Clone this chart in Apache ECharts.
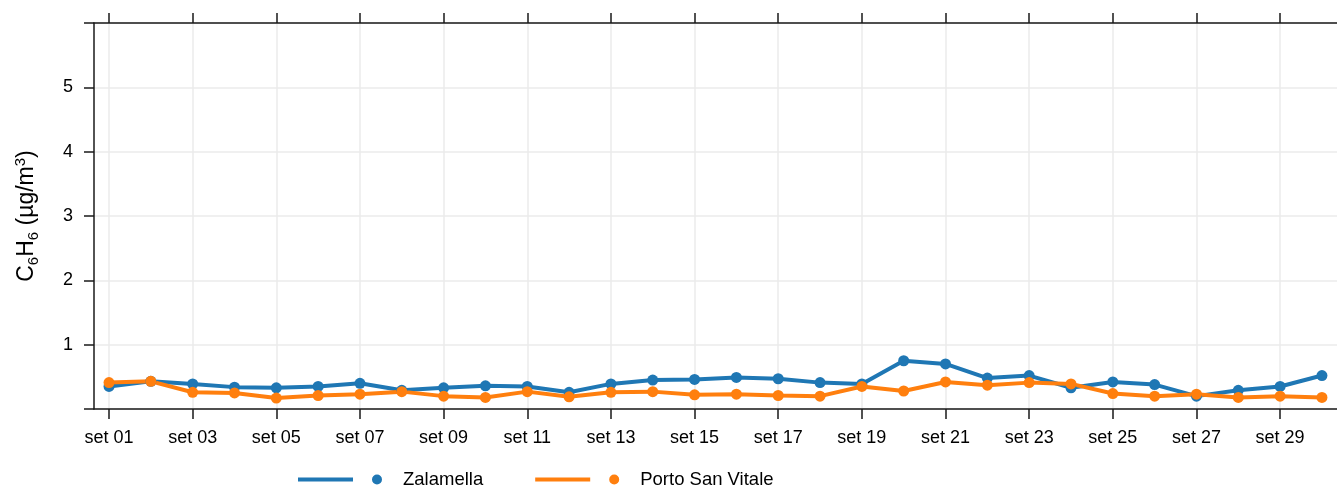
<!DOCTYPE html>
<html>
<head>
<meta charset="utf-8">
<script src="https://cdn.jsdelivr.net/npm/echarts@6/dist/echarts.min.js"></script>
<style>
  html, body { margin: 0; padding: 0; background: #fff; }
  #chart { width: 1337px; height: 490px; }
</style>
</head>
<body>
<div id="chart"></div>
<script>
// giorni di settembre
const days = [1, 2, 3, 4, 5, 6, 7, 8, 9, 10, 11, 12, 13, 14, 15, 16, 17, 18, 19, 20, 21, 22, 23, 24, 25, 26, 27, 28, 29, 30]

// benzene, µg/m3
const zalamella = [0.35, 0.43, 0.39, 0.34, 0.33, 0.35, 0.40, 0.29, 0.33, 0.36,
  0.35, 0.26, 0.39, 0.45, 0.46, 0.49, 0.47, 0.41, 0.39, 0.75,
  0.70, 0.48, 0.52, 0.33, 0.42, 0.38, 0.20, 0.29, 0.35, 0.52]
const portoSanVitale = [0.41, 0.43, 0.26, 0.25, 0.17, 0.21, 0.23, 0.27, 0.20, 0.18,
  0.27, 0.19, 0.26, 0.27, 0.22, 0.23, 0.21, 0.20, 0.35, 0.28,
  0.42, 0.37, 0.41, 0.39, 0.24, 0.20, 0.23, 0.18, 0.20, 0.18]

// etichette asse x
const tickDays = [1, 3, 5, 7, 9, 11, 13, 15, 17, 19, 21, 23, 25, 27, 29]
const tickLabels = ['set 01', 'set 03', 'set 05', 'set 07', 'set 09', 'set 11', 'set 13', 'set 15',
  'set 17', 'set 19', 'set 21', 'set 23', 'set 25', 'set 27', 'set 29']

const blue = '#1f77b4'
const orange = '#ff7f0e'
const font = 'Liberation Sans, Arial, Helvetica, sans-serif'
const axisColor = '#1a1a1a'
const gridColor = '#ebebeb'

const chart = echarts.init(document.getElementById('chart'))

// linea + punto staccati, come nella legenda originale
const legendIcon = 'path://M0,3L55,3L55,7L0,7Z M74,5A5,5,0,1,1,84,5A5,5,0,1,1,74,5Z'

const xCommon = {
  type: 'value',
  min: 0.641,
  max: 30.36,
  axisLine: { show: true, onZero: false, lineStyle: { color: axisColor, width: 1.5 } },
  axisTick: { show: true, customValues: tickDays, length: 10, lineStyle: { color: axisColor, width: 1.5 } }
}

const option = {
  animation: false,
  textStyle: { fontFamily: font },
  grid: { left: 94, right: 0, top: 23, bottom: 81, containLabel: false },
  legend: {
    left: 298,
    top: 470,
    padding: 0,
    itemWidth: 84,
    itemHeight: 10,
    itemGap: 52,
    icon: legendIcon,
    itemStyle: { borderWidth: 0 },
    textStyle: { fontSize: 18.5, color: '#000', fontFamily: font, padding: [0, 0, 0, 16] },
    data: ['Zalamella', 'Porto San Vitale']
  },
  xAxis: [
    Object.assign({}, xCommon, {
      position: 'bottom',
      axisLabel: {
        customValues: tickDays,
        margin: 20,
        fontSize: 18,
        color: '#000',
        fontFamily: font,
        formatter: (v) => tickLabels[tickDays.indexOf(v)]
      },
      splitLine: { show: true, lineStyle: { color: gridColor, width: 1.5 } }
    }),
    Object.assign({}, xCommon, {
      position: 'top',
      axisLabel: { show: false },
      splitLine: { show: false }
    })
  ],
  yAxis: {
    type: 'value',
    min: 0,
    max: 6,
    interval: 1,
    name: '{m|C}{s|6}{m|H}{s|6}{m| (µg/m}{p|3}{m|)}',
    nameLocation: 'middle',
    nameGap: 53,
    nameRotate: 90,
    nameTextStyle: {
      color: '#000',
      rich: {
        m: { fontSize: 23, fontFamily: font, color: '#000', lineHeight: 28, verticalAlign: 'middle' },
        s: { fontSize: 15, fontFamily: font, color: '#000', lineHeight: 28, verticalAlign: 'bottom' },
        p: { fontSize: 15, fontFamily: font, color: '#000', lineHeight: 28, verticalAlign: 'top' }
      }
    },
    axisLine: { show: true, lineStyle: { color: axisColor, width: 1.5 } },
    axisTick: { show: true, length: 10, lineStyle: { color: axisColor, width: 1.5 } },
    axisLabel: {
      margin: 21,
      fontSize: 18,
      color: '#000',
      fontFamily: font,
      formatter: (v) => (v === 0 || v === 6 ? '' : String(v))
    },
    splitLine: { show: true, lineStyle: { color: gridColor, width: 1.5 } }
  },
  series: [
    {
      name: 'Zalamella',
      type: 'line',
      symbol: 'circle',
      symbolSize: 11,
      itemStyle: { color: blue, borderWidth: 0 },
      lineStyle: { color: blue, width: 4 },
      data: days.map((d, i) => [d, zalamella[i]])
    },
    {
      name: 'Porto San Vitale',
      type: 'line',
      symbol: 'circle',
      symbolSize: 11,
      itemStyle: { color: orange, borderWidth: 0 },
      lineStyle: { color: orange, width: 4 },
      data: days.map((d, i) => [d, portoSanVitale[i]])
    }
  ]
}

chart.setOption(option)
</script>
</body>
</html>
